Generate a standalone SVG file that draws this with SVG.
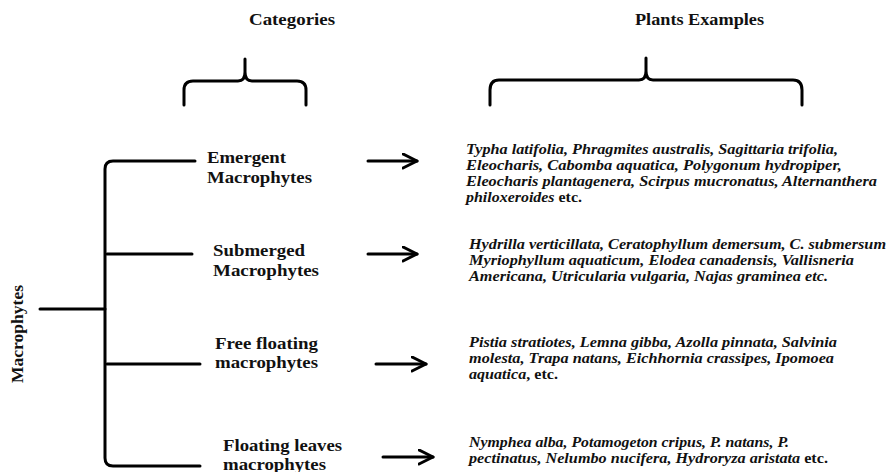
<svg xmlns="http://www.w3.org/2000/svg" width="891" height="472" viewBox="0 0 891 472">
<style>
.t{font-family:"Liberation Serif","Times New Roman",serif;font-weight:bold;fill:#111}
.h{font-size:16px}
.c{font-size:16px}
.p{font-size:14px;font-style:italic}
.u{font-style:normal}
.ln{fill:none;stroke:#000;stroke-width:3;stroke-linecap:round;stroke-linejoin:round}
</style>
<defs>
<marker id="ah" markerUnits="userSpaceOnUse" markerWidth="20" markerHeight="20" refX="15" refY="8" orient="auto">
<path d="M1,1 L15,8 L1,15" fill="none" stroke="#000" stroke-width="3" stroke-linecap="round" stroke-linejoin="round"/>
</marker>
</defs>
<rect width="891" height="472" fill="#fff"/>
<g id="headers">
<text class="t h" x="249" y="25" textLength="86" lengthAdjust="spacingAndGlyphs">Categories</text>
<text class="t h" x="635" y="25" textLength="129" lengthAdjust="spacingAndGlyphs">Plants Examples</text>
<path class="ln" d="M184,105 V90 Q184,81 193,81 H238 Q245,81 245,72 V59 M245,72 Q245,81 252,81 H297 Q306,81 306,90 V105"/>
<path class="ln" d="M490,105 V90 Q490,80 499,80 H639 Q646,80 646,71 V58 M646,71 Q646,80 653,80 H793 Q802,80 802,90 V105"/>
</g>
<g id="connectors">
<path class="ln" d="M195,161 H113 Q105,161 105,169 V458 Q105,466 113,466 H200"/>
<path class="ln" d="M40,309 H105"/>
<path class="ln" d="M107,254 H192"/>
<path class="ln" d="M107,364 H200"/>
<path class="ln" d="M368,161 H417" marker-end="url(#ah)"/>
<path class="ln" d="M368,254 H417" marker-end="url(#ah)"/>
<path class="ln" d="M376,364 H426" marker-end="url(#ah)"/>
<path class="ln" d="M383,457 H433" marker-end="url(#ah)"/>
</g>
<g id="root">
<text class="t c" transform="translate(23,383) rotate(-90)" textLength="98" lengthAdjust="spacingAndGlyphs">Macrophytes</text>
</g>
<g id="emergent">
<text class="t c" x="207" y="163" textLength="79" lengthAdjust="spacingAndGlyphs">Emergent</text>
<text class="t c" x="207" y="183" textLength="105" lengthAdjust="spacingAndGlyphs">Macrophytes</text>
</g>
<g id="submerged">
<text class="t c" x="213" y="256" textLength="92" lengthAdjust="spacingAndGlyphs">Submerged</text>
<text class="t c" x="213" y="276" textLength="106" lengthAdjust="spacingAndGlyphs">Macrophytes</text>
</g>
<g id="free-floating">
<text class="t c" x="215" y="349" textLength="103" lengthAdjust="spacingAndGlyphs">Free floating</text>
<text class="t c" x="215" y="368" textLength="103" lengthAdjust="spacingAndGlyphs">macrophytes</text>
</g>
<g id="floating-leaves">
<text class="t c" x="223" y="451" textLength="119" lengthAdjust="spacingAndGlyphs">Floating leaves</text>
<text class="t c" x="223" y="470" textLength="103" lengthAdjust="spacingAndGlyphs">macrophytes</text>
</g>
<g id="emergent-examples">
<text class="t p" x="466" y="154" textLength="372" lengthAdjust="spacingAndGlyphs">Typha latifolia, Phragmites australis, Sagittaria trifolia,</text>
<text class="t p" x="466" y="170" textLength="376" lengthAdjust="spacingAndGlyphs">Eleocharis, Cabomba aquatica,  Polygonum hydropiper,</text>
<text class="t p" x="466" y="186" textLength="411" lengthAdjust="spacingAndGlyphs">Eleocharis plantagenera, Scirpus mucronatus, Alternanthera</text>
<text class="t p" x="466" y="202" textLength="116" lengthAdjust="spacingAndGlyphs">philoxeroides<tspan class="u"> etc.</tspan></text>
</g>
<g id="submerged-examples">
<text class="t p" x="469" y="249" textLength="417" lengthAdjust="spacingAndGlyphs">Hydrilla verticillata, Ceratophyllum demersum, C. submersum</text>
<text class="t p" x="469" y="265" textLength="385" lengthAdjust="spacingAndGlyphs">Myriophyllum aquaticum, Elodea canadensis, Vallisneria</text>
<text class="t p" x="469" y="281" textLength="359" lengthAdjust="spacingAndGlyphs">Americana, Utricularia vulgaria, Najas graminea etc.</text>
</g>
<g id="free-floating-examples">
<text class="t p" x="469" y="347" textLength="368" lengthAdjust="spacingAndGlyphs">Pistia stratiotes, Lemna gibba, Azolla pinnata, Salvinia</text>
<text class="t p" x="469" y="363" textLength="365" lengthAdjust="spacingAndGlyphs">molesta, Trapa natans, Eichhornia crassipes, Ipomoea</text>
<text class="t p" x="469" y="379" textLength="89" lengthAdjust="spacingAndGlyphs">aquatica<tspan class="u">, etc.</tspan></text>
</g>
<g id="floating-leaves-examples">
<text class="t p" x="469" y="447" textLength="320" lengthAdjust="spacingAndGlyphs">Nymphea alba, Potamogeton cripus, P. natans, P.</text>
<text class="t p" x="469" y="463" textLength="359" lengthAdjust="spacingAndGlyphs">pectinatus, Nelumbo nucifera, Hydroryza aristata<tspan class="u"> etc.</tspan></text>
</g>
</svg>
